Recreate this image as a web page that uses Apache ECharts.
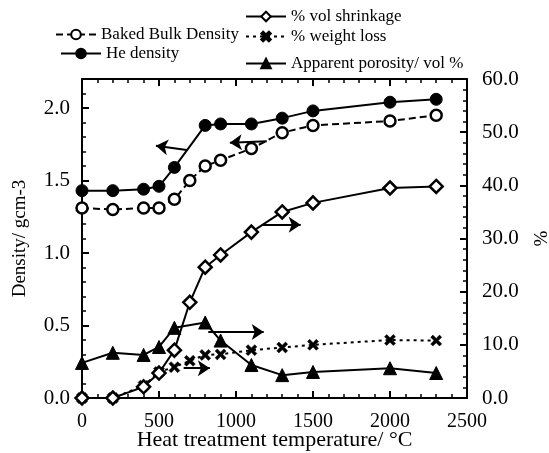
<!DOCTYPE html>
<html>
<head>
<meta charset="utf-8">
<script src="https://cdn.jsdelivr.net/npm/echarts@6/dist/echarts.min.js"></script>
<style>
  html, body { margin: 0; padding: 0; background: #fff; }
  #chart { width: 549px; height: 453px; }
</style>
</head>
<body>
<div id="chart"></div>
<script>
// heat treatment temperatures (°C)
const temps = [0, 200, 400, 500, 600, 800, 900, 1100, 1300, 1500, 2000, 2300];
const tempsBaked = [0, 200, 400, 500, 600, 700, 800, 900, 1100, 1300, 1500, 2000, 2300];
const tempsPct = [0, 200, 400, 500, 600, 700, 800, 900, 1100, 1300, 1500, 2000, 2300];
const tempsPor = [0, 200, 400, 500, 600, 800, 900, 1100, 1300, 1500, 2000, 2300];

// densities, g/cm3 (left axis)
const heDensity = [1.43, 1.43, 1.44, 1.46, 1.59, 1.88, 1.89, 1.89, 1.93, 1.98, 2.04, 2.06];
const bakedDensity = [1.31, 1.30, 1.31, 1.31, 1.37, 1.50, 1.60, 1.64, 1.72, 1.83, 1.88, 1.91, 1.95];

// percentages (right axis)
const volShrinkage = [0, 0, 2.1, 4.7, 9.0, 18.0, 24.6, 26.9, 31.2, 35.0, 36.7, 39.5, 39.8];
const weightLoss = [0, 0, 2.3, 4.9, 5.8, 7.0, 8.1, 8.2, 9.0, 9.5, 10.0, 10.9, 10.8];
const porosity = [6.6, 8.5, 8.1, 9.6, 13.2, 14.2, 10.8, 6.2, 4.3, 4.9, 5.6, 4.7];

const serif = 'Liberation Serif';
const black = '#000';

const pair = (xs, ys) => xs.map((x, i) => [x, ys[i]]);

const crossPath = 'path://M0,2 L2,0 L5,3 L8,0 L10,2 L7,5 L10,8 L8,10 L5,7 L2,10 L0,8 L3,5 Z';

function arrow(a, b) {
    return [{ coord: a }, { coord: b }];
}

const arrowStyle = {
    silent: true,
    symbol: ['none', 'arrow'],
    symbolSize: 12,
    label: { show: false },
    lineStyle: { color: black, width: 2, type: 'solid' },
    animation: false
};

const tick = { show: true, inside: true, length: 7, lineStyle: { color: black, width: 2 } };
const minor = { show: true, splitNumber: 5, length: 4, lineStyle: { color: black, width: 1.5 } };
const axisLine = { show: true, onZero: false, lineStyle: { color: black, width: 2 } };

const chart = echarts.init(document.getElementById('chart'));

const legendText = { fontFamily: serif, fontSize: 17, color: black };

const option = {
    animation: false,
    grid: { left: 82, right: 82, top: 79, bottom: 55, outerBoundsMode: 'none' },
    legend: [
        { data: ['Baked Bulk Density'], left: 50, top: 21, itemWidth: 40, itemHeight: 12, textStyle: legendText },
        { data: ['He density'], left: 55, top: 40, itemWidth: 40, itemHeight: 12, textStyle: legendText },
        { data: ['% vol shrinkage'], left: 240, top: 3, itemWidth: 40, itemHeight: 12, textStyle: legendText },
        { data: ['% weight loss'], left: 240, top: 23, itemWidth: 40, itemHeight: 12, textStyle: legendText },
        { data: ['Apparent porosity/ vol %'], left: 240, top: 50, itemWidth: 40, itemHeight: 12, textStyle: legendText }
    ],
    xAxis: [
        {
            type: 'value', min: 0, max: 2500, interval: 500,
            name: 'Heat treatment temperature/ °C',
            nameLocation: 'middle', nameGap: 31, nameMoveOverlap: false,
            nameTextStyle: { fontFamily: serif, fontSize: 22, color: black },
            axisLine: axisLine,
            axisTick: tick,
            minorTick: minor,
            axisLabel: { fontFamily: serif, fontSize: 20, color: black, margin: 14, formatter: v => String(v) },
            splitLine: { show: false }
        },
        {
            type: 'value', min: 0, max: 2500, interval: 500, position: 'top',
            axisLine: axisLine,
            axisTick: tick,
            minorTick: minor,
            axisLabel: { show: false },
            splitLine: { show: false }
        }
    ],
    yAxis: [
        {
            type: 'value', min: 0, max: 2.2, interval: 0.5,
            name: 'Density/ gcm-3',
            nameLocation: 'middle', nameGap: 52, nameRotate: 90, nameMoveOverlap: false,
            nameTextStyle: { fontFamily: serif, fontSize: 19, color: black },
            axisLine: axisLine,
            axisTick: tick,
            minorTick: minor,
            axisLabel: {
                fontFamily: serif, fontSize: 21, color: black, margin: 12, showMaxLabel: false,
                formatter: v => v.toFixed(1)
            },
            splitLine: { show: false }
        },
        {
            type: 'value', min: 0, max: 60, interval: 10, position: 'right',
            name: '%',
            nameLocation: 'middle', nameGap: 66, nameRotate: 90, nameMoveOverlap: false,
            nameTextStyle: { fontFamily: serif, fontSize: 19, color: black },
            axisLine: axisLine,
            axisTick: tick,
            minorTick: minor,
            axisLabel: {
                fontFamily: serif, fontSize: 21, color: black, margin: 15,
                formatter: v => v.toFixed(1)
            },
            splitLine: { show: false }
        }
    ],
    series: [
        {
            name: 'Baked Bulk Density', type: 'line', yAxisIndex: 0,
            data: pair(tempsBaked, bakedDensity),
            symbol: 'circle', symbolSize: 11,
            itemStyle: { color: '#fff', borderColor: black, borderWidth: 2.5 },
            lineStyle: { color: black, width: 2, type: [7, 4] },
            markLine: Object.assign({}, arrowStyle, { data: [arrow([1200, 1.77], [960, 1.76])] }),
            z: 3
        },
        {
            name: 'He density', type: 'line', yAxisIndex: 0,
            data: pair(temps, heDensity),
            symbol: 'circle', symbolSize: 12,
            itemStyle: { color: black, borderColor: black, borderWidth: 1 },
            lineStyle: { color: black, width: 2 },
            markLine: Object.assign({}, arrowStyle, { data: [arrow([680, 1.71], [480, 1.74])] }),
            z: 3
        },
        {
            name: '% vol shrinkage', type: 'line', yAxisIndex: 1,
            data: pair(tempsPct, volShrinkage),
            symbol: 'diamond', symbolSize: 13,
            itemStyle: { color: '#fff', borderColor: black, borderWidth: 2.5 },
            lineStyle: { color: black, width: 2 },
            markLine: Object.assign({}, arrowStyle, { data: [arrow([1170, 32.6], [1420, 32.6])] }),
            z: 4
        },
        {
            name: '% weight loss', type: 'line', yAxisIndex: 1,
            data: pair(tempsPct, weightLoss),
            symbol: crossPath, symbolSize: 11,
            itemStyle: { color: black, borderColor: black, borderWidth: 0.5 },
            lineStyle: { color: black, width: 2, type: [3, 4] },
            markLine: Object.assign({}, arrowStyle, { data: [arrow([660, 5.6], [830, 5.6])] }),
            z: 3
        },
        {
            name: 'Apparent porosity/ vol %', type: 'line', yAxisIndex: 1,
            data: pair(tempsPor, porosity),
            symbol: 'triangle', symbolSize: 13,
            itemStyle: { color: black, borderColor: black, borderWidth: 1 },
            lineStyle: { color: black, width: 2 },
            markLine: Object.assign({}, arrowStyle, { data: [arrow([820, 12.4], [1180, 12.4])] }),
            z: 3
        }
    ]
};

chart.setOption(option);
</script>
</body>
</html>
